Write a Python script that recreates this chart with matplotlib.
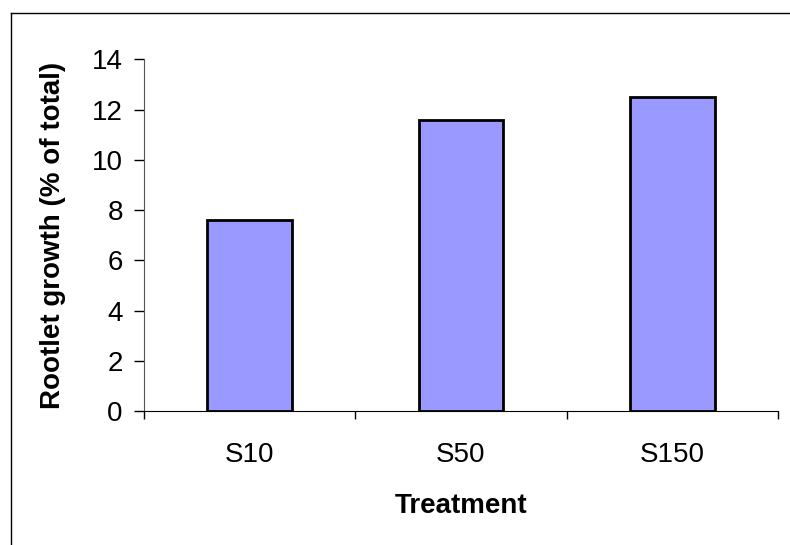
import matplotlib.pyplot as plt
from matplotlib.lines import Line2D

treatments = ["S10", "S50", "S150"]
growth = [7.6, 11.6, 12.5]
y_ticks = [0, 2, 4, 6, 8, 10, 12, 14]

plt.rcParams["font.family"] = ["Liberation Sans", "DejaVu Sans"]

fig = plt.figure(figsize=(7.9, 5.45), dpi=100)
ax = fig.add_axes([0.1818, 0.2459, 0.8030, 0.6453])

x = list(range(len(treatments)))
ax.bar(x, growth, width=0.4, color="#9999FF", edgecolor="black", linewidth=2, zorder=3)

ax.set_xlim(-0.5, len(treatments) - 0.5)
ax.set_ylim(0, 14)
ax.set_yticks(y_ticks)
ax.set_yticklabels([str(v) for v in y_ticks], fontsize=20)

# category boundaries get the tick marks, the centres get the labels
ax.set_xticks([i - 0.5 for i in range(len(treatments) + 1)])
ax.set_xticklabels([])
ax.set_xticks(x, minor=True)
ax.set_xticklabels(treatments, minor=True, fontsize=20)
ax.tick_params(axis="x", which="major", direction="out", length=6, width=1)
ax.tick_params(axis="x", which="minor", length=0, pad=22)
ax.tick_params(axis="y", direction="out", length=7, width=1, pad=8)

for side in ["top", "right"]:
    ax.spines[side].set_visible(False)
ax.spines["left"].set_color("#555555")

ax.set_xlabel("Treatment", fontsize=20, fontweight="bold", labelpad=18)
fig.text(53 / 790, 1 - 235 / 545, "Rootlet growth (% of total)", fontsize=20,
         fontweight="bold", rotation=90, ha="center", va="center")

# outer chart-area border (only top and left are visible in the crop)
fig.add_artist(Line2D([11 / 790, 1], [1 - 13 / 545, 1 - 13 / 545], color="black", lw=1))
fig.add_artist(Line2D([11 / 790, 11 / 790], [0, 1 - 13 / 545], color="black", lw=1))

fig.savefig("out.png", dpi=100)
